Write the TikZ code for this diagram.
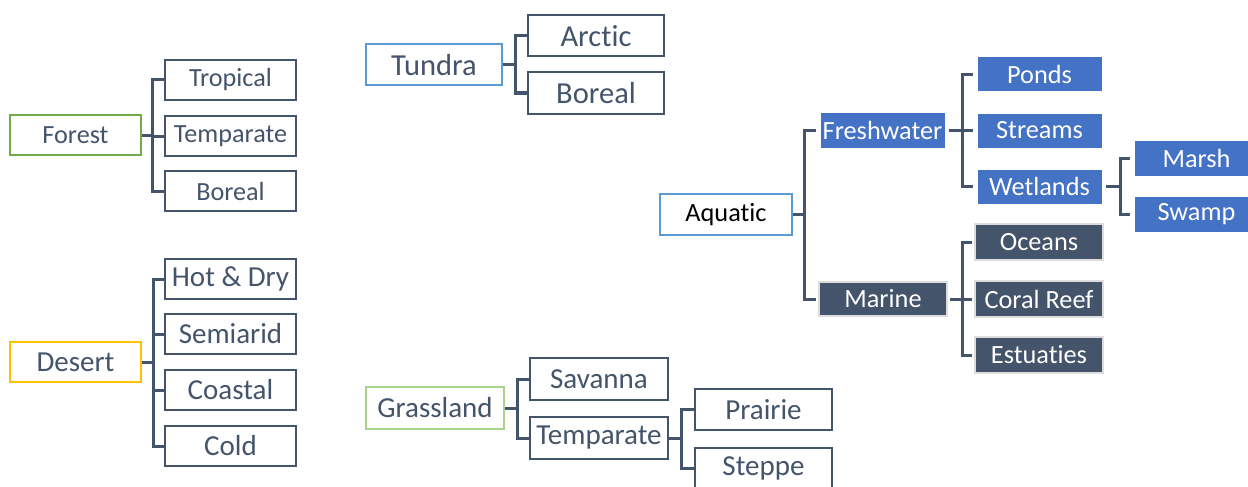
\documentclass[tikz,border=0pt]{standalone}
\usepackage{fontspec}
\setmainfont{Carlito}[Ligatures={NoCommon}]
\definecolor{slate}{HTML}{44546A}
\definecolor{fgreen}{HTML}{70AD47}
\definecolor{dgold}{HTML}{FFC000}
\definecolor{tblue}{HTML}{5B9BD5}
\definecolor{ggreen}{HTML}{A9D18E}
\definecolor{fblue}{HTML}{4472C4}
\definecolor{lgray}{HTML}{DDDDDD}
\newcommand{\fs}[1]{\fontsize{#1}{#1}\selectfont}
\tikzset{
  box/.style={rectangle, inner sep=0pt, draw=slate, line width=2pt, text=slate, fill=white},
  bluebox/.style={rectangle, inner sep=0pt, fill=fblue, draw=white, line width=1pt, text=white, outer sep=4pt},
  darkbox/.style={rectangle, inner sep=0pt, fill=slate, draw=lgray, line width=2.5pt, text=white, outer sep=3pt},
  conn/.style={draw=slate, line width=3pt},
}
\begin{document}
\begin{tikzpicture}[x=1pt,y=-1pt]
\clip (0,0) rectangle (1248,487);
\useasboundingbox (0,0) rectangle (1248,487);
% Forest
\begin{scope}[every node/.append style={minimum width=131pt, minimum height=40pt, font=\fs{26.2}}]
\node[box, draw=fgreen] (forest) at (75.5,135) {Forest};
\node[box] (tropical) at (230.5,80) {Tropical};
\node[box] (ftemp) at (230.5,136) {Temparate};
\node[box] (fboreal) at (230.5,191) {Boreal};
\end{scope}
\draw[conn] (forest.east) -- (152,135) coordinate (fb);
\draw[conn] (tropical.west) -- (fb |- tropical.west) -- (fb |- fboreal.west) -- (fboreal.west);
\draw[conn] (fb |- ftemp.west) -- (ftemp.west);
% Desert
\begin{scope}[every node/.append style={minimum width=131pt, minimum height=40pt, font=\fs{29}}]
\node[box, draw=dgold] (desert) at (75.5,362) {Desert};
\node[box] (hot) at (230.5,279) {Hot \& Dry};
\node[box] (semi) at (230.5,334) {Semiarid};
\node[box] (coastal) at (230.5,390) {Coastal};
\node[box] (cold) at (230.5,446) {Cold};
\end{scope}
\draw[conn] (desert.east) -- (153,362) coordinate (db);
\draw[conn] (hot.west) -- (db |- hot.west) -- (db |- cold.west) -- (cold.west);
\draw[conn] (db |- semi.west) -- (semi.west);
\draw[conn] (db |- coastal.west) -- (coastal.west);
% Tundra
\begin{scope}[every node/.append style={minimum width=136pt, minimum height=41pt, font=\fs{30.5}}]
\node[box, draw=tblue] (tundra) at (434,65) {Tundra};
\node[box] (arctic) at (596,36) {Arctic};
\node[box] (tboreal) at (596,93) {Boreal};
\end{scope}
\draw[conn] (tundra.east) -- (515,65) coordinate (tb);
\draw[conn] (arctic.west) -- (tb |- arctic.west) -- (tb |- tboreal.west) -- (tboreal.west);
% Grassland
\begin{scope}[every node/.append style={minimum width=138pt, minimum height=42pt, font=\fs{29}}]
\node[box, draw=ggreen] (grass) at (435,408) {Grassland};
\node[box] (savanna) at (599,379) {Savanna};
\node[box] (gtemp) at (599,438) {Temparate};
\node[box, minimum width=137pt, minimum height=41pt] (prairie) at (763.5,409.5) {Prairie};
\node[box, minimum width=137pt, minimum height=41pt] (steppe) at (763.5,468.5) {Steppe};
\end{scope}
\draw[conn] (grass.east) -- (517,408) coordinate (gb);
\draw[conn] (savanna.west) -- (gb |- savanna.west) -- (gb |- gtemp.west) -- (gtemp.west);
\draw[conn] (gtemp.east) -- (681,438) coordinate (pb);
\draw[conn] (prairie.west) -- (pb |- prairie.west) -- (pb |- steppe.west) -- (steppe.west);
% Aquatic
\begin{scope}[every node/.append style={font=\fs{26.3}}]
\node[box, draw=tblue, text=black, minimum width=132pt, minimum height=41pt] (aquatic) at (726,214.5) {Aquatic};
\node[bluebox, minimum width=125pt, minimum height=36pt] (fresh) at (882.5,130) {Freshwater};
\node[darkbox, minimum width=128pt, minimum height=34pt] (marine) at (883,299) {Marine};
\node[bluebox, minimum width=125pt, minimum height=35pt] (ponds) at (1039.5,74.5) {Ponds};
\node[bluebox, minimum width=125pt, minimum height=35pt] (streams) at (1039.5,130.5) {Streams};
\node[bluebox, minimum width=125pt, minimum height=35pt] (wet) at (1039.5,186.5) {Wetlands};
\node[bluebox, minimum width=125pt, minimum height=36pt] (marsh) at (1196.5,158) {Marsh};
\node[bluebox, minimum width=125pt, minimum height=36pt] (swamp) at (1196.5,214) {Swamp};
\node[darkbox, minimum width=128pt, minimum height=36pt] (oceans) at (1039,242) {Oceans};
\node[darkbox, minimum width=128pt, minimum height=36pt] (coral) at (1039,299) {Coral Reef};
\node[darkbox, minimum width=128pt, minimum height=36pt] (estu) at (1039,355) {Estuaties};
\end{scope}
\draw[conn] (aquatic.east) -- (804,214.5) coordinate (ab);
\draw[conn] (fresh.west) -- (ab |- fresh.west) -- (ab |- marine.west) -- (marine.west);
\draw[conn] (fresh.east) -- (962,130) coordinate (fwb);
\draw[conn] (ponds.west) -- (fwb |- ponds.west) -- (fwb |- wet.west) -- (wet.west);
\draw[conn] (fwb |- streams.west) -- (streams.west);
\draw[conn] (wet.east) -- (1120,186.5) coordinate (wb);
\draw[conn] (marsh.west) -- (wb |- marsh.west) -- (wb |- swamp.west) -- (swamp.west);
\draw[conn] (marine.east) -- (962,299) coordinate (mb);
\draw[conn] (oceans.west) -- (mb |- oceans.west) -- (mb |- estu.west) -- (estu.west);
\draw[conn] (mb |- coral.west) -- (coral.west);
\end{tikzpicture}
\end{document}
